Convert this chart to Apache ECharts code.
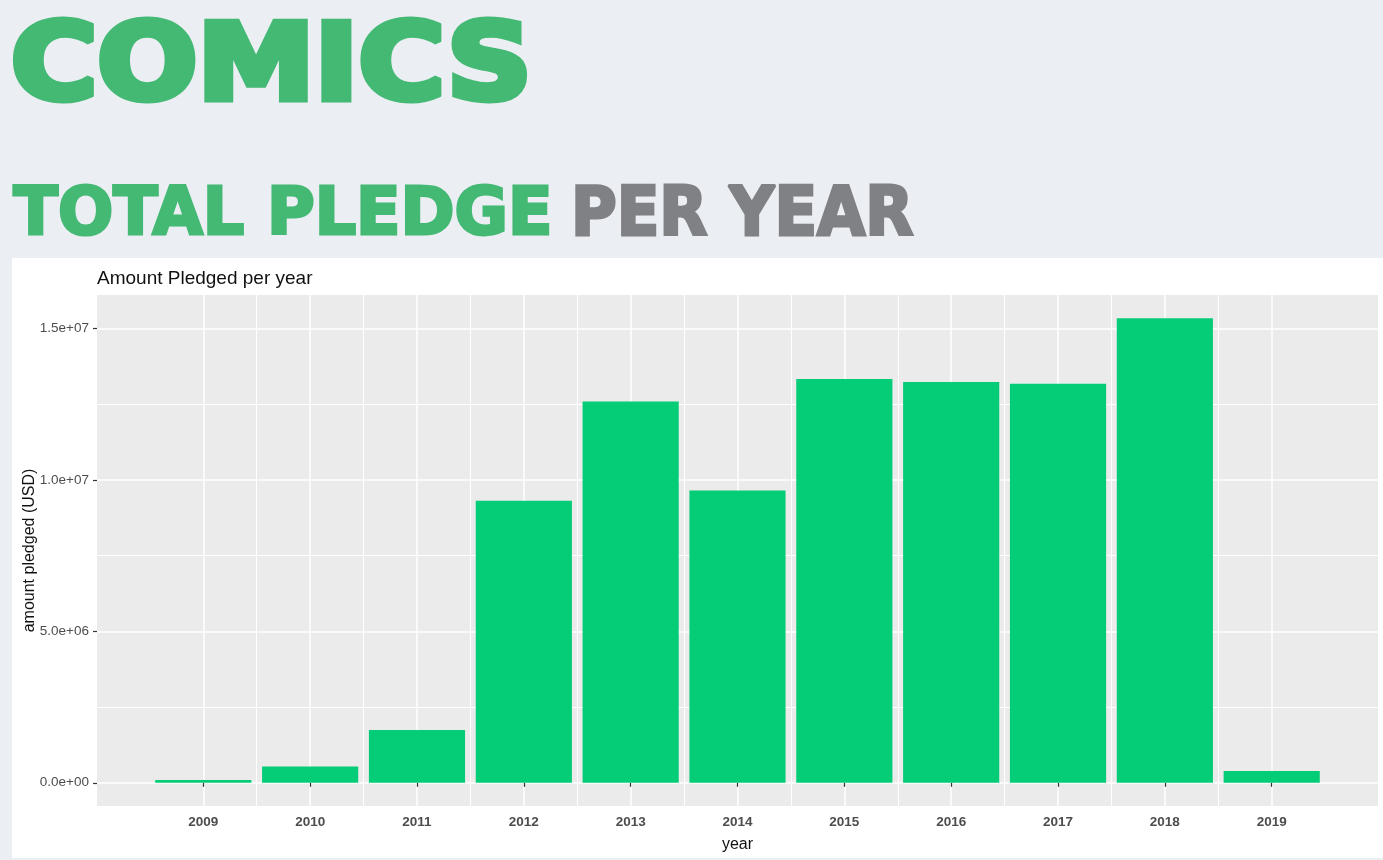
<!DOCTYPE html>
<html>
<head>
<meta charset="utf-8">
<script src="https://cdn.jsdelivr.net/npm/echarts@6/dist/echarts.min.js"></script>
<style>
  html, body { margin: 0; padding: 0; background: #ebeef3; }
  #chart { width: 1383px; height: 860px; }
</style>
</head>
<body>
<div id="chart"></div>
<script>
// ---- data ----
const years = [2009, 2010, 2011, 2012, 2013, 2014, 2015, 2016, 2017, 2018, 2019];
const pledged = [90000, 540000, 1740000, 9310000, 12590000, 9650000, 13330000, 13230000, 13180000, 15340000, 390000];
const yTicks = [0, 5000000, 10000000, 15000000];
const yTickLabels = ['0.0e+00', '5.0e+06', '1.0e+07', '1.5e+07'];
const yMinorTicks = [2500000, 7500000, 12500000];
const xTickLabels = ['2009', '2010', '2011', '2012', '2013', '2014', '2015', '2016', '2017', '2018', '2019'];

// ---- derived (ggplot-like expansion) ----
const barHalf = 0.45;
const xSpan = (years[years.length - 1] + barHalf) - (years[0] - barHalf);
const xMin = years[0] - barHalf - 0.05 * xSpan;
const xMax = years[years.length - 1] + barHalf + 0.05 * xSpan;
const yTop = Math.max(...pledged);
const yMin = -0.05 * yTop;
const yMax = 1.05 * yTop;
const xMinor = years.slice(1).map((y, i) => (y + years[i]) / 2);

// ---- heading fitting ----
const mctx = document.createElement('canvas').getContext('2d');
function heading(text, color, left, top, width, height, family, weight, lw) {
  const r = 1.08; // rendered-vs-measured vertical ratio
  mctx.textBaseline = 'middle';
  mctx.font = weight + ' 100px ' + family;
  let m = mctx.measureText(text);
  const h100 = m.actualBoundingBoxAscent + m.actualBoundingBoxDescent;
  const F = 100 * (height - lw) / (h100 * r);
  const font = weight + ' ' + F.toFixed(2) + 'px ' + family;
  mctx.font = font;
  m = mctx.measureText(text);
  const inkW = m.actualBoundingBoxLeft + m.actualBoundingBoxRight;
  const sx = (width - lw) / inkW;
  return {
    type: 'text',
    x: left + lw / 2 + sx * m.actualBoundingBoxLeft,
    y: top + lw / 2 + m.actualBoundingBoxAscent * r,
    scaleX: sx,
    silent: true,
    style: {
      text: text, fill: color, font: font, textAlign: 'left', textVerticalAlign: 'middle', verticalAlign: 'middle',
      stroke: color, lineWidth: lw, lineJoin: 'round'
    }
  };
}

const HF = '"DejaVu Sans"';
const HW = 'bold';
const green = '#44b974';
const grey = '#808184';
const txtFont = '"Liberation Sans", Arial, sans-serif';

const chart = echarts.init(document.getElementById('chart'), null, { renderer: 'canvas' });
chart.setOption({
  backgroundColor: '#ebeef3',
  animation: false,
  graphic: [
    { type: 'rect', shape: { x: 12, y: 258, width: 1371, height: 600 }, style: { fill: '#ffffff' }, silent: true, z: -10 },
    heading('COMICS', green, 13, 12, 514, 93, HF, HW, 7),
    heading('TOTAL PLEDGE', green, 12, 181, 538, 57, HF, HW, 3),
    heading('PER YEAR', grey, 575, 181, 339, 57, HF, HW, 3)
  ],
  title: {
    text: 'Amount Pledged per year',
    left: 92,
    top: 264,
    textStyle: { fontFamily: txtFont, fontSize: 19, fontWeight: 'normal', color: '#111' }
  },
  grid: {
    left: 97, right: 5, top: 295, bottom: 54,
    show: true, backgroundColor: '#ebebeb', borderWidth: 0,
    outerBoundsMode: 'none'
  },
  xAxis: [
    {
      type: 'value', min: xMin, max: xMax,
      name: 'year', nameLocation: 'middle', nameGap: 31,
      nameTextStyle: { fontFamily: txtFont, fontSize: 16, color: '#111' },
      axisLine: { show: false },
      axisTick: { show: true, length: 4, customValues: years, lineStyle: { color: '#333', width: 1.2 } },
      axisLabel: {
        customValues: years, margin: 9,
        formatter: v => xTickLabels[years.indexOf(Math.round(v))],
        fontFamily: txtFont, fontSize: 13.5, fontWeight: 'bold', color: '#4d4d4d'
      },
      splitLine: { show: true, lineStyle: { color: '#ffffff', width: 1.5 } }
    },
    {
      type: 'value', min: xMin, max: xMax, position: 'bottom',
      axisLine: { show: false }, axisLabel: { show: false },
      axisTick: { show: false, customValues: xMinor },
      splitLine: { show: true, lineStyle: { color: '#ffffff', width: 1 } }
    }
  ],
  yAxis: [
    {
      type: 'value', min: yMin, max: yMax,
      name: 'amount pledged (USD)', nameLocation: 'middle', nameGap: 67, nameRotate: 90,
      nameMoveOverlap: false,
      nameTextStyle: { fontFamily: txtFont, fontSize: 16, color: '#111', align: 'center', verticalAlign: 'middle' },
      axisLine: { show: false },
      axisTick: { show: true, length: 4, customValues: yTicks, lineStyle: { color: '#333', width: 1.2 } },
      axisLabel: {
        customValues: yTicks, margin: 8,
        formatter: v => yTickLabels[yTicks.indexOf(Math.round(v))],
        fontFamily: txtFont, fontSize: 13.5, color: '#4d4d4d'
      },
      splitLine: { show: true, lineStyle: { color: '#ffffff', width: 1.5 } }
    },
    {
      type: 'value', min: yMin, max: yMax, position: 'left',
      axisLine: { show: false }, axisLabel: { show: false },
      axisTick: { show: false, customValues: yMinorTicks },
      splitLine: { show: true, lineStyle: { color: '#ffffff', width: 1 } }
    }
  ],
  series: [
    {
      type: 'bar',
      xAxisIndex: 0, yAxisIndex: 0,
      barWidth: '90%',
      itemStyle: { color: '#04cc77' },
      data: years.map((y, i) => [y, pledged[i]])
    }
  ]
});
</script>
</body>
</html>
